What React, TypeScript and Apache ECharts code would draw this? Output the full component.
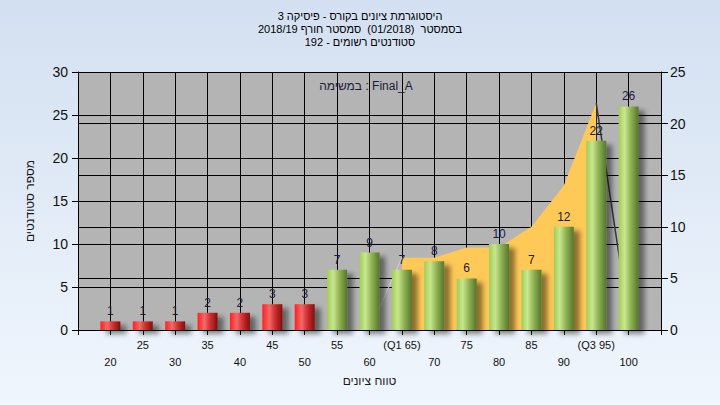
import React, { useEffect, useRef } from "react";
import * as echarts from "echarts";

const titleLines = [
  "היסטוגרמת ציונים בקורס - פיסיקה 3",
  "בסמסטר  (01/2018)  סמסטר חורף 2018/19",
  "סטודנטים רשומים - 192",
];
const innerNote = "במשימה : Final_A";
const yAxisName = "מספר סטודנטים";
const xAxisName = "טווח ציונים";

const grades = [20, 25, 30, 35, 40, 45, 50, 55, 60, 65, 70, 75, 80, 85, 90, 95, 100];
const tickLabels = ["20", "25", "30", "35", "40", "45", "50", "55", "60", "(Q1 65)", "70", "75", "80", "85", "90", "(Q3 95)", "100"];
const studentCounts = [1, 1, 1, 2, 2, 3, 3, 7, 9, 7, 8, 6, 10, 7, 12, 22, 26];
const passGrade = 55;

const bandGrades = [65, 70, 75, 80, 85, 90, 95];
const bandValues = [7, 7, 8, 8, 10, 14, 22];
const leadGrades = [60, 65];
const leadValues = [0, 7];
const tailGrades = [95, 100];
const tailValues = [22, 1];

const FONT = "'Liberation Sans', Arial, sans-serif";

const redGrad = {
  type: "linear", x: 0, y: 0, x2: 1, y2: 0,
  colorStops: [
    { offset: 0, color: "#ff2020" },
    { offset: 0.35, color: "#f06a6a" },
    { offset: 0.6, color: "#d23434" },
    { offset: 1, color: "#850c0c" },
  ],
};
const greenGrad = {
  type: "linear", x: 0, y: 0, x2: 1, y2: 0,
  colorStops: [
    { offset: 0, color: "#a2cc58" },
    { offset: 0.3, color: "#c9e78e" },
    { offset: 0.6, color: "#90b455" },
    { offset: 1, color: "#55762a" },
  ],
};

export default function App() {
  const ref = useRef<HTMLDivElement>(null);
  useEffect(() => {
    if (!ref.current) return;
    const chart = echarts.init(ref.current, null, { renderer: "svg" });
    const barData = grades.map((g, i) => ({
      value: [g, studentCounts[i]],
      itemStyle: { color: g < passGrade ? redGrad : greenGrad },
    }));
    const labelFor = (v: number) => {
      const idx = grades.indexOf(v);
      if (idx < 0) return "";
      return idx % 2 === 1 ? tickLabels[idx] : "\n" + tickLabels[idx];
    };
    chart.setOption({
      animation: false,
      backgroundColor: {
        type: "linear", x: 0, y: 0, x2: 0, y2: 1,
        colorStops: [
          { offset: 0, color: "#d3e0f1" },
          { offset: 1, color: "#f0f6fd" },
        ],
      },
      textStyle: { fontFamily: FONT },
      grid: {
        left: 78, right: 59, top: 72, bottom: 75,
        show: true, backgroundColor: "#b4b4b4", borderWidth: 0,
      },
      graphic: [
        ...titleLines.map((t, i) => ({
          type: "text",
          x: 360,
          y: 16 + i * 13.2,
          style: {
            text: t, fill: "#000", font: `11px ${FONT}`,
            textAlign: "center", textVerticalAlign: "middle",
          },
          z: 10,
        })),
        {
          type: "text",
          x: 366,
          y: 86,
          style: {
            text: innerNote, fill: "#1a1a3a", font: `12px ${FONT}`,
            textAlign: "center", textVerticalAlign: "middle",
          },
          z: 100,
        },
      ],
      xAxis: {
        type: "value",
        min: 15, max: 105, interval: 5,
        name: xAxisName,
        nameLocation: "middle",
        nameGap: 45,
        nameTextStyle: { fontSize: 12, color: "#1a1a1a", fontFamily: FONT },
        axisLine: { show: true, lineStyle: { color: "#000", width: 1 } },
        axisTick: { show: true, length: 5, lineStyle: { color: "#000" } },
        axisLabel: {
          formatter: (v: number) => labelFor(v),
          fontSize: 11, lineHeight: 17, margin: 6, color: "#111",
          fontFamily: FONT,
        },
        splitLine: { show: true, lineStyle: { color: "#000", width: 1 } },
      },
      yAxis: [
        {
          type: "value", min: 0, max: 30, interval: 5,
          position: "left",
          name: yAxisName,
          nameLocation: "middle",
          nameGap: 42,
          nameRotate: 90,
          nameTextStyle: { fontSize: 12, color: "#1a1a1a", fontFamily: FONT },
          axisLine: { show: true, lineStyle: { color: "#000", width: 1 } },
          axisTick: { show: true, length: 6, lineStyle: { color: "#000" } },
          axisLabel: { fontSize: 14, margin: 10, color: "#111", fontFamily: FONT },
          splitLine: { show: true, lineStyle: { color: "#000", width: 1 } },
        },
        {
          type: "value", min: 0, max: 25, interval: 5,
          position: "right",
          axisLine: { show: true, lineStyle: { color: "#000", width: 1 } },
          axisTick: { show: true, length: 7, lineStyle: { color: "#000" } },
          axisLabel: { fontSize: 14, margin: 9, color: "#111", fontFamily: FONT },
          splitLine: { show: true, lineStyle: { color: "#000", width: 1 } },
        },
      ],
      series: [
        {
          type: "line",
          yAxisIndex: 1,
          data: bandGrades.map((g, i) => [g, bandValues[i]]),
          symbol: "none",
          lineStyle: { width: 0, color: "#ffc957" },
          areaStyle: { color: "#ffc957", opacity: 1 },
          z: 2,
          silent: true,
        },
        {
          type: "line",
          yAxisIndex: 1,
          data: leadGrades.map((g, i) => [g, leadValues[i]]),
          symbol: "none",
          lineStyle: { width: 1, color: "#d0d0d0" },
          z: 2,
        },
        {
          type: "line",
          yAxisIndex: 1,
          data: tailGrades.map((g, i) => [g, tailValues[i]]),
          symbol: "none",
          lineStyle: { width: 1.5, color: "#3a3a3a" },
          z: 2,
        },
        {
          type: "bar",
          yAxisIndex: 0,
          barWidth: 20,
          data: barData,
          itemStyle: {
            shadowBlur: 5,
            shadowColor: "rgba(0,0,0,0.45)",
            shadowOffsetX: 6,
            shadowOffsetY: 4,
          },
          label: {
            show: true,
            position: "top",
            distance: 4,
            fontSize: 12,
            color: "#1a1a3a",
            fontFamily: FONT,
          },
          z: 5,
        },
      ],
    });
    return () => chart.dispose();
  }, []);
  return (
    <div
      ref={ref}
      style={{ position: "fixed", left: 0, top: 0, width: 720, height: 405 }}
    />
  );
}
